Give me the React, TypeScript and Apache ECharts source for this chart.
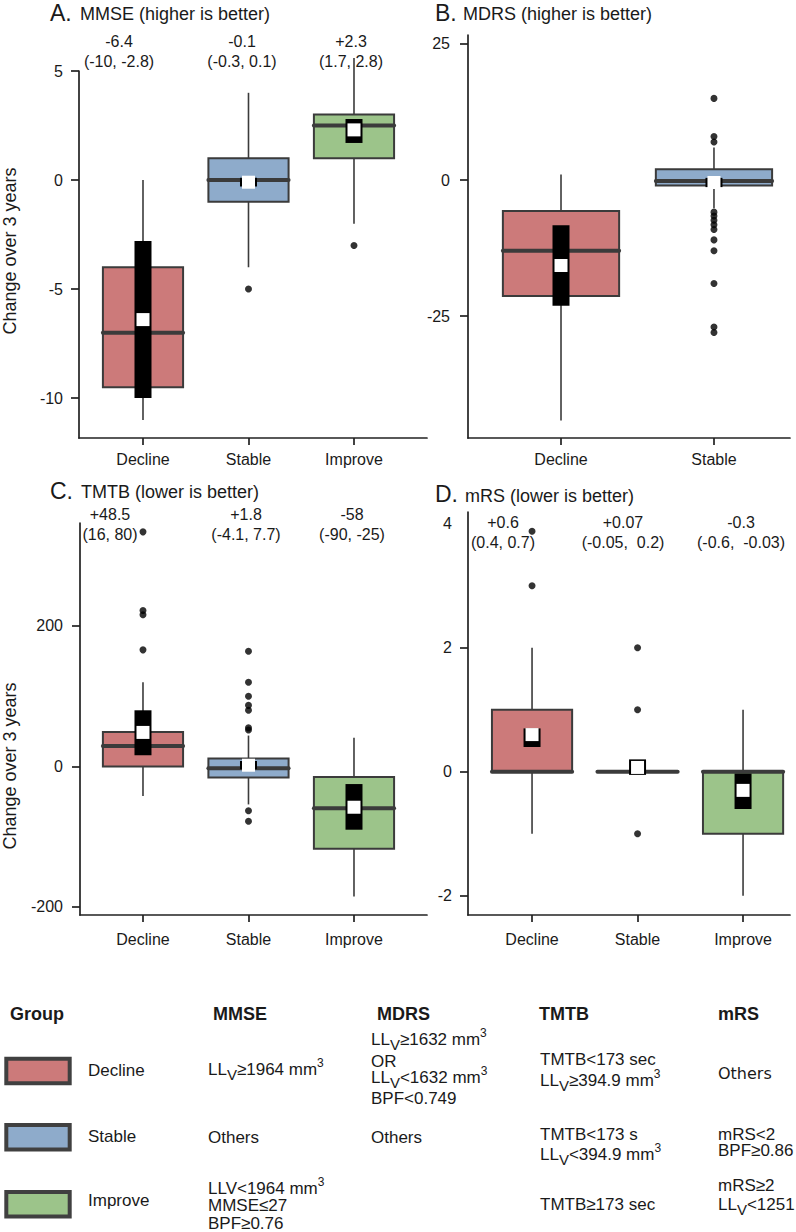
import { useEffect, useRef } from 'react';
import * as echarts from 'echarts';

const FONT = '"Liberation Sans", Arial, Helvetica, sans-serif';
const INK = '#1a1a1a';
const EDGE = '#3b3b3b';

const groupNames = ['Decline', 'Stable', 'Improve'];
const groupColors = ['#CC7A7A', '#8EABCB', '#9CC48A'];

// ---- A. MMSE ----  box rows: [whiskerLow, Q1, median, Q3, whiskerHigh]
const mmseCategories = ['Decline', 'Stable', 'Improve'];
const mmseBoxes = [
  [-11, -9.5, -7, -4, 0],
  [-4, -1, 0, 1, 4],
  [-2, 1, 2.5, 3, 5.6],
];
const mmseMeans = [-6.4, -0.1, 2.3];
const mmseCILow = [-10, -0.3, 1.7];
const mmseCIHigh = [-2.8, 0.1, 2.8];
const mmseOutliers = [[2, -5], [3, -3]];
const mmseTicks = [-10, -5, 0, 5];
const mmseMeanLabels = ['-6.4', '-0.1', '+2.3'];
const mmseCILabels = ['(-10, -2.8)', '(-0.3, 0.1)', '(1.7, 2.8)'];

// ---- B. MDRS ----
const mdrsCategories = ['Decline', 'Stable'];
const mdrsBoxes = [
  [-44.2, -21.3, -13, -5.7, 1],
  [-5.2, -1, -0.2, 2, 6],
];
const mdrsMeans = [-15.7, -0.45];
const mdrsCILow = [-23.1, -1.3];
const mdrsCIHigh = [-8.3, 0.4];
const mdrsOutliers = [
  [2, 15], [2, 8], [2, 7], [2, -5.9], [2, -6.6], [2, -7.4], [2, -8.2], [2, -9.1],
  [2, -11], [2, -13], [2, -19], [2, -27], [2, -28],
];
const mdrsTicks = [-25, 0, 25];

// ---- C. TMTB ----
const tmtbCategories = ['Decline', 'Stable', 'Improve'];
const tmtbBoxes = [
  [-42, 0, 29, 49, 120],
  [-54, -15.7, -2.4, 11.4, 44],
  [-185, -117, -59.5, -15, 41],
];
const tmtbMeans = [48.5, 1.8, -58];
const tmtbCILow = [16, -4.1, -90];
const tmtbCIHigh = [80, 7.7, -25];
const tmtbOutliers = [
  [1, 334], [1, 222], [1, 216], [1, 166],
  [2, 164], [2, 120], [2, 100], [2, 87], [2, 80], [2, 55], [2, 52], [2, -63], [2, -78],
];
const tmtbTicks = [-200, 0, 200];
const tmtbMeanLabels = ['+48.5', '+1.8', '-58'];
const tmtbCILabels = ['(16, 80)', '(-4.1, 7.7)', '(-90, -25)'];

// ---- D. mRS ----
const mrsCategories = ['Decline', 'Stable', 'Improve'];
const mrsBoxes = [
  [-1, 0, 0, 1, 2],
  [0, 0, 0, 0, 0],
  [-2, -1, 0, 0, 1],
];
const mrsMeans = [0.6, 0.07, -0.3];
const mrsCILow = [0.4, -0.05, -0.6];
const mrsCIHigh = [0.7, 0.2, -0.03];
const mrsOutliers = [[1, 3.88], [1, 3], [2, 2], [2, 1], [2, -1]];
const mrsTicks = [-2, 0, 2];
const mrsLabels = [-2, 0, 2, 4];
const mrsMeanLabels = ['+0.6', '+0.07', '-0.3'];
const mrsCILabels = ['(0.4, 0.7)', '(-0.05,  0.2)', '(-0.6,  -0.03)'];

type Panel = {
  cats: string[];
  boxes: number[][];
  means: number[];
  ciLow: number[];
  ciHigh: number[];
  outliers: number[][];
  ticks: number[];
  labels: number[];
  left: number; top: number; width: number; height: number;
  xMin: number; xMax: number; yMin: number; yMax: number;
  xLabelMargin: number; yLabelMargin: number;
};

const panels: Panel[] = [
  {
    cats: mmseCategories, boxes: mmseBoxes, means: mmseMeans, ciLow: mmseCILow, ciHigh: mmseCIHigh,
    outliers: mmseOutliers, ticks: mmseTicks, labels: mmseTicks,
    left: 79, top: 71, width: 348, height: 367, xMin: 0.3934, xMax: 3.692, yMin: -11.83, yMax: 5,
    xLabelMargin: 13, yLabelMargin: 16,
  },
  {
    cats: mdrsCategories, boxes: mdrsBoxes, means: mdrsMeans, ciLow: mdrsCILow, ciHigh: mdrsCIHigh,
    outliers: mdrsOutliers, ticks: mdrsTicks, labels: mdrsTicks,
    left: 468, top: 35, width: 322, height: 403, xMin: 0.392, xMax: 2.497, yMin: -47.4, yMax: 26.65,
    xLabelMargin: 13, yLabelMargin: 18,
  },
  {
    cats: tmtbCategories, boxes: tmtbBoxes, means: tmtbMeans, ciLow: tmtbCILow, ciHigh: tmtbCIHigh,
    outliers: tmtbOutliers, ticks: tmtbTicks, labels: tmtbTicks,
    left: 80, top: 523, width: 347, height: 392, xMin: 0.403, xMax: 3.692, yMin: -211.4, yMax: 346.6,
    xLabelMargin: 16, yLabelMargin: 17,
  },
  {
    cats: mrsCategories, boxes: mrsBoxes, means: mrsMeans, ciLow: mrsCILow, ciHigh: mrsCIHigh,
    outliers: mrsOutliers, ticks: mrsTicks, labels: mrsLabels,
    left: 468, top: 512, width: 322, height: 403, xMin: 0.393, xMax: 3.445, yMin: -2.31, yMax: 4.19,
    xLabelMargin: 16, yLabelMargin: 16,
  },
];

function txt(x: number, y: number, text: string, size: number, opts: any = {}) {
  const align = opts.align || 'left';
  return {
    type: 'text',
    x, y,
    rotation: opts.rotation || 0,
    silent: true,
    z: 10,
    style: {
      text,
      font: `${opts.bold ? 'bold ' : ''}${size}px ${opts.family || FONT}`,
      lineHeight: opts.lineHeight || size,
      fill: INK,
      align, textAlign: align,
      verticalAlign: 'middle', textVerticalAlign: 'middle',
    },
  };
}

const subSupRich = {
  sub: { fontSize: 15, fontFamily: FONT, lineHeight: 21, verticalAlign: 'bottom', fill: INK, color: INK },
  sup: { fontSize: 12, fontFamily: FONT, lineHeight: 12, verticalAlign: 'top', fill: INK, color: INK },
};

function richTxt(x: number, y: number, text: string) {
  return {
    type: 'text', x, y, silent: true, z: 10,
    style: {
      text,
      font: `17px ${FONT}`,
      fontSize: 17,
      fontFamily: FONT,
      lineHeight: 25,
      fill: INK,
      align: 'left', textAlign: 'left',
      verticalAlign: 'middle', textVerticalAlign: 'middle',
      rich: subSupRich,
    },
  };
}

function buildOption() {
  const grid: any[] = [];
  const xAxis: any[] = [];
  const yAxis: any[] = [];
  const series: any[] = [];

  panels.forEach((p, gi) => {
    grid.push({ left: p.left, top: p.top, width: p.width, height: p.height, outerBoundsMode: 'none', containLabel: false });
    const catIdx = p.cats.map((_, i) => i + 1);
    xAxis.push({
      gridIndex: gi, type: 'value', min: p.xMin, max: p.xMax,
      splitLine: { show: false },
      axisLine: { show: true, onZero: false, lineStyle: { color: '#222', width: 1.7 } },
      axisTick: { show: true, customValues: catIdx, length: 7, lineStyle: { color: '#222', width: 1.7 } },
      axisLabel: {
        show: true, customValues: catIdx, margin: p.xLabelMargin,
        formatter: (v: number) => p.cats[Math.round(v) - 1] || '',
        fontSize: 16, fontFamily: FONT, color: INK,
      },
    });
    yAxis.push({
      gridIndex: gi, type: 'value', min: p.yMin, max: p.yMax,
      splitLine: { show: false },
      axisLine: { show: true, onZero: false, lineStyle: { color: '#222', width: 1.7 } },
      axisTick: { show: true, customValues: p.ticks, length: 8, lineStyle: { color: '#222', width: 1.7 } },
      axisLabel: {
        show: true, customValues: p.labels, margin: p.yLabelMargin,
        formatter: (v: number) => String(v),
        fontSize: 16, fontFamily: FONT, color: INK,
      },
    });

    series.push({
      type: 'custom',
      xAxisIndex: gi, yAxisIndex: gi,
      z: 2,
      clip: false,
      data: p.boxes.map((b, i) => [i + 1, ...b]),
      encode: { x: 0, y: [1, 2, 3, 4, 5] },
      renderItem: (params: any, api: any) => {
        const x = api.value(0);
        const w = api.size([1, 0])[0] * 0.76;
        const pLo = api.coord([x, api.value(1)]);
        const pQ1 = api.coord([x, api.value(2)]);
        const pMed = api.coord([x, api.value(3)]);
        const pQ3 = api.coord([x, api.value(4)]);
        const pHi = api.coord([x, api.value(5)]);
        const cx = pMed[0];
        return {
          type: 'group',
          children: [
            { type: 'line', shape: { x1: cx, y1: pHi[1], x2: cx, y2: pQ3[1] }, style: { stroke: EDGE, lineWidth: 1.6 } },
            { type: 'line', shape: { x1: cx, y1: pQ1[1], x2: cx, y2: pLo[1] }, style: { stroke: EDGE, lineWidth: 1.6 } },
            {
              type: 'rect',
              shape: { x: cx - w / 2, y: pQ3[1], width: w, height: pQ1[1] - pQ3[1] },
              style: { fill: groupColors[params.dataIndex], stroke: EDGE, lineWidth: 2 },
            },
            {
              type: 'line',
              shape: { x1: cx - w / 2, y1: pMed[1], x2: cx + w / 2, y2: pMed[1] },
              style: { stroke: EDGE, lineWidth: 4, lineCap: 'round' },
            },
          ],
        };
      },
    });

    series.push({
      type: 'scatter',
      xAxisIndex: gi, yAxisIndex: gi,
      z: 3,
      symbol: 'circle',
      symbolSize: 7,
      itemStyle: { color: '#000' },
      data: p.outliers,
    });

    series.push({
      type: 'custom',
      xAxisIndex: gi, yAxisIndex: gi,
      z: 4,
      clip: false,
      data: p.means.map((m, i) => [i + 1, m, p.ciLow[i], p.ciHigh[i]]),
      encode: { x: 0, y: [1, 2, 3] },
      renderItem: (params: any, api: any) => {
        const x = api.value(0);
        const pm = api.coord([x, api.value(1)]);
        const pl = api.coord([x, api.value(2)]);
        const ph = api.coord([x, api.value(3)]);
        return {
          type: 'group',
          children: [
            { type: 'rect', shape: { x: pm[0] - 8.5, y: ph[1], width: 17, height: pl[1] - ph[1] }, style: { fill: '#000' } },
            { type: 'rect', shape: { x: pm[0] - 6.5, y: pm[1] - 6.5, width: 13, height: 13 }, style: { fill: '#fff' } },
          ],
        };
      },
    });
  });

  const g: any[] = [];
  // titles
  g.push(txt(50, 12.8, 'A.', 23));
  g.push(txt(80, 14.2, 'MMSE (higher is better)', 18));
  g.push(txt(435, 12.5, 'B.', 23));
  g.push(txt(463, 14, 'MDRS (higher is better)', 18));
  g.push(txt(50, 490.5, 'C.', 23));
  g.push(txt(81, 491.7, 'TMTB (lower is better)', 18));
  g.push(txt(435, 493.5, 'D.', 23));
  g.push(txt(465, 496, 'mRS (lower is better)', 18));

  // y-axis names
  g.push(txt(9.5, 251, 'Change over 3 years', 18, { align: 'center', rotation: Math.PI / 2 }));
  g.push(txt(9.5, 766, 'Change over 3 years', 18, { align: 'center', rotation: Math.PI / 2 }));

  // mean / CI annotations
  const aX = [119, 242, 351];
  const cX = [110, 246, 352];
  const dX = [503, 623, 741];
  mmseMeanLabels.forEach((s, i) => g.push(txt(aX[i], 41, s, 16, { align: 'center' })));
  mmseCILabels.forEach((s, i) => g.push(txt(aX[i], 61.5, s, 16, { align: 'center' })));
  tmtbMeanLabels.forEach((s, i) => g.push(txt(cX[i], 514.5, s, 16, { align: 'center' })));
  tmtbCILabels.forEach((s, i) => g.push(txt(cX[i], 534.5, s, 16, { align: 'center' })));
  mrsMeanLabels.forEach((s, i) => g.push(txt(dX[i], 522.5, s, 16, { align: 'center' })));
  mrsCILabels.forEach((s, i) => g.push(txt(dX[i], 542.5, s, 16, { align: 'center' })));

  // legend table headers
  g.push(txt(10, 1013.5, 'Group', 18, { bold: true }));
  g.push(txt(213, 1013.5, 'MMSE', 18, { bold: true }));
  g.push(txt(377, 1013.5, 'MDRS', 18, { bold: true }));
  g.push(txt(539, 1013.5, 'TMTB', 18, { bold: true }));
  g.push(txt(718, 1013.5, 'mRS', 18, { bold: true }));

  // swatches
  const swY = [1058.7, 1125, 1192];
  groupColors.forEach((c, i) => {
    g.push({
      type: 'rect', silent: true, z: 10,
      shape: { x: 6.3, y: swY[i], width: 63.4, height: 24.5 },
      style: { fill: c, stroke: '#404040', lineWidth: 4 },
    });
  });
  const grpY = [1070, 1136.8, 1200.8];
  groupNames.forEach((n, i) => g.push(txt(88, grpY[i], n, 17)));

  // MMSE column
  g.push(richTxt(208, 1069, 'LL{sub|V}≥1964 mm{sup|3}'));
  g.push(txt(208, 1137, 'Others', 17));
  g.push(richTxt(208, 1188, 'LLV<1964 mm{sup|3}'));
  g.push(txt(208, 1205.7, 'MMSE≤27', 17, { lineHeight: 16 }));
  g.push(txt(208, 1223.5, 'BPF≥0.76', 17, { lineHeight: 16 }));

  // MDRS column
  g.push(richTxt(371, 1039, 'LL{sub|V}≥1632 mm{sup|3}'));
  g.push(txt(371, 1061, 'OR', 17, { lineHeight: 15 }));
  g.push(richTxt(371, 1077, 'LL{sub|V}<1632 mm{sup|3}'));
  g.push(txt(371, 1098, 'BPF<0.749', 17, { lineHeight: 16 }));
  g.push(txt(371, 1137, 'Others', 17));

  // TMTB column
  g.push(txt(540, 1059, 'TMTB<173 sec', 17, { lineHeight: 16 }));
  g.push(richTxt(540, 1080.7, 'LL{sub|V}≥394.9 mm{sup|3}'));
  g.push(txt(540, 1134, 'TMTB<173 s', 17, { lineHeight: 16 }));
  g.push(richTxt(540, 1154, 'LL{sub|V}<394.9 mm{sup|3}'));
  g.push(txt(540, 1204, 'TMTB≥173 sec', 17));

  // mRS column
  g.push(txt(718, 1073.6, 'Others', 16, { family: '"DejaVu Sans", Verdana, sans-serif' }));
  g.push(txt(718, 1134, 'mRS<2', 17, { lineHeight: 16 }));
  g.push(txt(718, 1150.7, 'BPF≥0.86', 17, { lineHeight: 16 }));
  g.push(txt(718, 1185.7, 'mRS≥2', 17, { lineHeight: 16 }));
  g.push(richTxt(718, 1204, 'LL{sub|V}<1251'));

  return {
    animation: false,
    backgroundColor: '#ffffff',
    grid, xAxis, yAxis, series,
    graphic: { elements: g },
  };
}

export default function App() {
  const ref = useRef<HTMLDivElement>(null);
  useEffect(() => {
    if (!ref.current) return;
    const chart = echarts.init(ref.current, null, { renderer: 'svg' });
    chart.setOption(buildOption() as any);
    return () => chart.dispose();
  }, []);
  return (
    <div
      ref={ref}
      style={{ position: 'absolute', left: 0, top: 0, width: 796, height: 1232, background: '#fff' }}
    />
  );
}
